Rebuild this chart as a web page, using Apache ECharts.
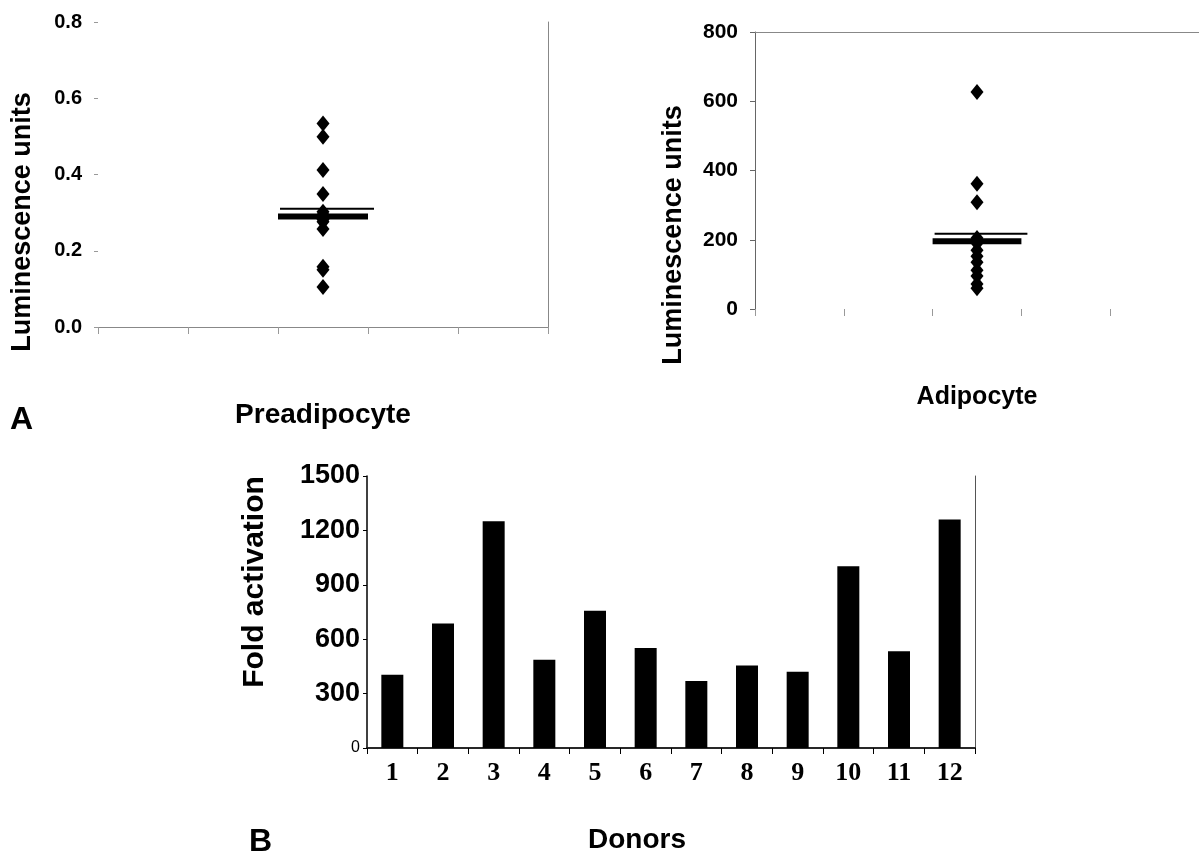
<!DOCTYPE html>
<html>
<head>
<meta charset="utf-8">
<script src="https://cdn.jsdelivr.net/npm/echarts@6/dist/echarts.min.js"></script>
<style>
  html, body { margin: 0; padding: 0; background: #fff; }
  #main { width: 1199px; height: 855px; }
</style>
</head>
<body>
<div id="main"></div>
<script>
// panel A, values (12 donors each)
var slots = ['', '', '', '', ''];
var groupSlot = 2;
var preValues = [0.534, 0.499, 0.412, 0.349, 0.302, 0.295, 0.282, 0.276, 0.257, 0.158, 0.150, 0.105];
var preMean = 0.31;
var preMedian = 0.29;

var adiValues = [627, 362, 308, 205, 190, 170, 152, 135, 112, 95, 72, 60];
var adiMean = 217;
var adiMedian = 196;

// panel B
var donors = ['1', '2', '3', '4', '5', '6', '7', '8', '9', '10', '11', '12'];
var foldActivation = [404, 687, 1251, 487, 757, 551, 369, 455, 420, 1002, 533, 1260];

var arial = '"Liberation Sans", Arial, sans-serif';
var serif = '"Liberation Serif", "Times New Roman", serif';

var myChart = echarts.init(document.getElementById('main'));

// mean line (thin) and median bar (thick) drawn across one category band
function statRender(params, api) {
	var c = api.coord([api.value(0), api.value(1)]);
	var bw = api.size([1, 0])[0];
	if (api.value(2) === 1) {
		return {
			type: 'rect',
			shape: {x: c[0] - bw / 2, y: c[1] - 3, width: bw, height: 6},
			style: {fill: '#000'}
		};
	}
	return {
		type: 'line',
		shape: {x1: c[0] - bw / 2 + 2, y1: c[1], x2: c[0] + bw / 2 + 6, y2: c[1]},
		style: {stroke: '#000', lineWidth: 2}
	};
}

function dotX(i, name, gap, size) {
	return {
		type: 'category', gridIndex: i, data: slots, boundaryGap: true,
		axisLine: {show: false},
		axisTick: {show: true, length: 7, lineStyle: {color: '#999'}},
		axisLabel: {show: false},
		name: name, nameLocation: 'middle', nameGap: gap,
		nameTextStyle: {fontFamily: arial, fontWeight: 'bold', fontSize: size, color: '#000', verticalAlign: 'top'}
	};
}
function frameX(i) {
	return {
		type: 'category', gridIndex: i, data: slots, position: 'top',
		axisLine: {show: true, lineStyle: {color: '#888', width: 1}},
		axisTick: {show: false}, axisLabel: {show: false}
	};
}

var option = {
	backgroundColor: '#fff',
	animation: false,
	grid: [
		{left: 98, top: 22, width: 450, height: 305},
		{left: 755, top: 32, width: 452, height: 277},
		{left: 367, top: 476, width: 608, height: 275}
	],
	graphic: [
		{type: 'text', left: 10, top: 404, style: {text: 'A', font: 'bold 32px ' + arial, fill: '#000'}},
		{type: 'text', left: 249, top: 826, style: {text: 'B', font: 'bold 32px ' + arial, fill: '#000'}}
	],
	xAxis: [
		dotX(0, 'Preadipocyte', 74, 28),
		dotX(1, 'Adipocyte', 76, 25),
		{
			type: 'category', gridIndex: 2, data: donors,
			axisLine: {lineStyle: {color: '#000', width: 1.5}},
			axisTick: {show: true, length: 6, lineStyle: {color: '#000'}},
			axisLabel: {fontFamily: serif, fontWeight: 'bold', fontSize: 26, color: '#000', margin: 12},
			name: 'Donors', nameLocation: 'middle', nameGap: 78,
			nameTextStyle: {fontFamily: arial, fontWeight: 'bold', fontSize: 28, color: '#000', verticalAlign: 'top', padding: [0, 68, 0, 0]}
		},
		frameX(0),
		frameX(1),
		{
			type: 'category', gridIndex: 2, data: donors, position: 'top',
			axisLine: {show: true, lineStyle: {color: '#222', width: 1.5}},
			axisTick: {show: false}, axisLabel: {show: false}
		}
	],
	yAxis: [
		{
			type: 'value', gridIndex: 0, min: 0, max: 0.8, interval: 0.2,
			axisLine: {show: false},
			axisTick: {show: true, length: 4, lineStyle: {color: '#999'}},
			splitLine: {show: false},
			axisLabel: {fontFamily: arial, fontWeight: 'bold', fontSize: 20, color: '#000', margin: 16,
				formatter: function (v) { return v.toFixed(1); }},
			name: 'Luminescence units', nameLocation: 'middle', nameGap: 62,
			nameTextStyle: {fontFamily: arial, fontWeight: 'bold', fontSize: 27, color: '#000', padding: [0, 95, 0, 0]}
		},
		{
			type: 'value', gridIndex: 1, min: 0, max: 800, interval: 200,
			axisLine: {show: true, lineStyle: {color: '#666', width: 1}},
			axisTick: {show: true, length: 5, lineStyle: {color: '#666'}},
			splitLine: {show: false},
			axisLabel: {fontFamily: arial, fontWeight: 'bold', fontSize: 21, color: '#000', margin: 17},
			name: 'Luminescence units', nameLocation: 'middle', nameGap: 68,
			nameTextStyle: {fontFamily: arial, fontWeight: 'bold', fontSize: 27, color: '#000', padding: [0, 129, 0, 0]}
		},
		{
			type: 'value', gridIndex: 2, min: 0, max: 1500, interval: 300,
			axisLine: {show: true, lineStyle: {color: '#000', width: 1.5}},
			axisTick: {show: true, length: 4, lineStyle: {color: '#000'}},
			splitLine: {show: false},
			axisLabel: {
				margin: 7,
				formatter: function (v) { return v === 0 ? '{z|0}' : '{b|' + v + '}'; },
				rich: {
					b: {fontFamily: arial, fontWeight: 'bold', fontSize: 27, color: '#000'},
					z: {fontFamily: arial, fontWeight: 'normal', fontSize: 16, color: '#000'}
				}
			},
			name: 'Fold activation', nameLocation: 'middle', nameGap: 97,
			nameTextStyle: {fontFamily: arial, fontWeight: 'bold', fontSize: 30, color: '#000', padding: [0, 0, 0, 60]}
		},
		{
			type: 'value', gridIndex: 0, min: 0, max: 0.8, position: 'right',
			axisLine: {show: true, lineStyle: {color: '#888', width: 1}},
			axisTick: {show: false}, axisLabel: {show: false}, splitLine: {show: false}
		},
		{
			type: 'value', gridIndex: 2, min: 0, max: 1500, position: 'right',
			axisLine: {show: true, lineStyle: {color: '#555', width: 1}},
			axisTick: {show: false}, axisLabel: {show: false}, splitLine: {show: false}
		}
	],
	series: [
		{
			name: 'Preadipocyte', type: 'scatter', xAxisIndex: 0, yAxisIndex: 0,
			symbol: 'diamond', symbolSize: [13, 16], itemStyle: {color: '#000', opacity: 1},
			data: preValues.map(function (v) { return [groupSlot, v]; }), z: 3
		},
		{
			name: 'Preadipocyte summary', type: 'custom', xAxisIndex: 0, yAxisIndex: 0,
			renderItem: statRender,
			data: [[groupSlot, preMean, 0], [groupSlot, preMedian, 1]], z: 2
		},
		{
			name: 'Adipocyte', type: 'scatter', xAxisIndex: 1, yAxisIndex: 1,
			symbol: 'diamond', symbolSize: [13, 16], itemStyle: {color: '#000', opacity: 1},
			data: adiValues.map(function (v) { return [groupSlot, v]; }), z: 3
		},
		{
			name: 'Adipocyte summary', type: 'custom', xAxisIndex: 1, yAxisIndex: 1,
			renderItem: statRender,
			data: [[groupSlot, adiMean, 0], [groupSlot, adiMedian, 1]], z: 2
		},
		{
			name: 'Fold activation', type: 'bar', xAxisIndex: 2, yAxisIndex: 2,
			barWidth: 22, itemStyle: {color: '#000'},
			data: foldActivation
		}
	]
};

myChart.setOption(option);
</script>
</body>
</html>
